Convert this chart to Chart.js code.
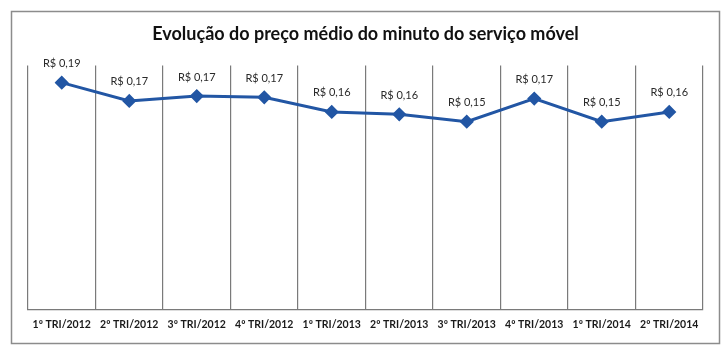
<!DOCTYPE html>
<html lang="pt-BR">
<head>
    <meta charset="UTF-8">
    <title>Evolução do preço médio do minuto do serviço móvel</title>
    <style>
        * {
            padding: 0;
            margin: 0;
            box-sizing: border-box;
        }

        body {
            width: 725px;
            height: 350px;
            background: #ffffff;
        }

        .container {
            position: relative;
            width: 725px;
            height: 350px;
        }
    </style>
</head>
<body>
    <div class="container">
        <canvas id="chart"></canvas>
    </div>
    <script src="https://cdn.jsdelivr.net/npm/chart.js@4/dist/chart.umd.min.js"></script>
    <script>
        const quarters = [
            "1º TRI/2012", "2º TRI/2012", "3º TRI/2012", "4º TRI/2012", "1º TRI/2013",
            "2º TRI/2013", "3º TRI/2013", "4º TRI/2013", "1º TRI/2014", "2º TRI/2014"
        ];
        const avgPrice = [0.186, 0.171, 0.175, 0.174, 0.162, 0.160, 0.154, 0.173, 0.154, 0.162];

        const fontFamily = "Lato, 'Open Sans', sans-serif";
        const lineColor = "#2256a4";
        const gridColor = "#7a7a7a";

        const brl = (v) => "R$ " + v.toFixed(2).replace(".", ",");

        // gray frame around the whole chart
        const frame = {
            id: "frame",
            beforeDraw(chart) {
                const ctx = chart.ctx;
                ctx.save();
                ctx.fillStyle = "#ffffff";
                ctx.fillRect(0, 0, chart.width, chart.height);
                ctx.strokeStyle = "#8c8c8c";
                ctx.lineWidth = 1.5;
                ctx.strokeRect(11.5, 11.5, chart.width - 17, chart.height - 18);
                ctx.restore();
            },
        };

        // value labels above each point
        const pointLabels = {
            id: "pointLabels",
            afterDatasetsDraw(chart) {
                const ctx = chart.ctx;
                const meta = chart.getDatasetMeta(0);
                const values = chart.data.datasets[0].data;
                ctx.save();
                ctx.font = "11px " + fontFamily;
                ctx.fillStyle = "#2a2a2a";
                ctx.textAlign = "center";
                ctx.textBaseline = "middle";
                meta.data.forEach((pt, i) => {
                    ctx.fillText(brl(values[i]), pt.x, pt.y - 19);
                });
                ctx.restore();
            },
        };

        new Chart(document.getElementById("chart"), {
            type: "line",
            plugins: [frame, pointLabels],
            data: {
                labels: quarters,
                datasets: [{
                    data: avgPrice,
                    borderColor: lineColor,
                    backgroundColor: lineColor,
                    borderWidth: 3,
                    pointStyle: "rectRot",
                    pointRadius: 5,
                    pointHoverRadius: 5,
                    tension: 0,
                }],
            },
            options: {
                responsive: true,
                maintainAspectRatio: false,
                animation: false,
                layout: {
                    padding: { left: 28, right: 22, top: 0, bottom: 10 },
                },
                plugins: {
                    legend: { display: false },
                    tooltip: { enabled: false },
                    title: {
                        display: true,
                        text: "Evolução do preço médio do minuto do serviço móvel",
                        color: "#111111",
                        font: { family: fontFamily, size: 18, weight: "bold", lineHeight: 1.2 },
                        padding: { top: 23, bottom: 21 },
                    },
                },
                scales: {
                    x: {
                        offset: true,
                        grid: {
                            offset: true,
                            color: gridColor,
                            lineWidth: 1.2,
                            drawTicks: false,
                        },
                        border: { color: gridColor, width: 1.2 },
                        ticks: {
                            color: "#1a1a1a",
                            font: { family: fontFamily, size: 10.5, weight: "bold", lineHeight: 1.2 },
                            padding: 9,
                            maxRotation: 0,
                            autoSkip: false,
                        },
                    },
                    y: {
                        display: false,
                        min: 0,
                        max: 0.2,
                    },
                },
            },
        });
    </script>
</body>
</html>
